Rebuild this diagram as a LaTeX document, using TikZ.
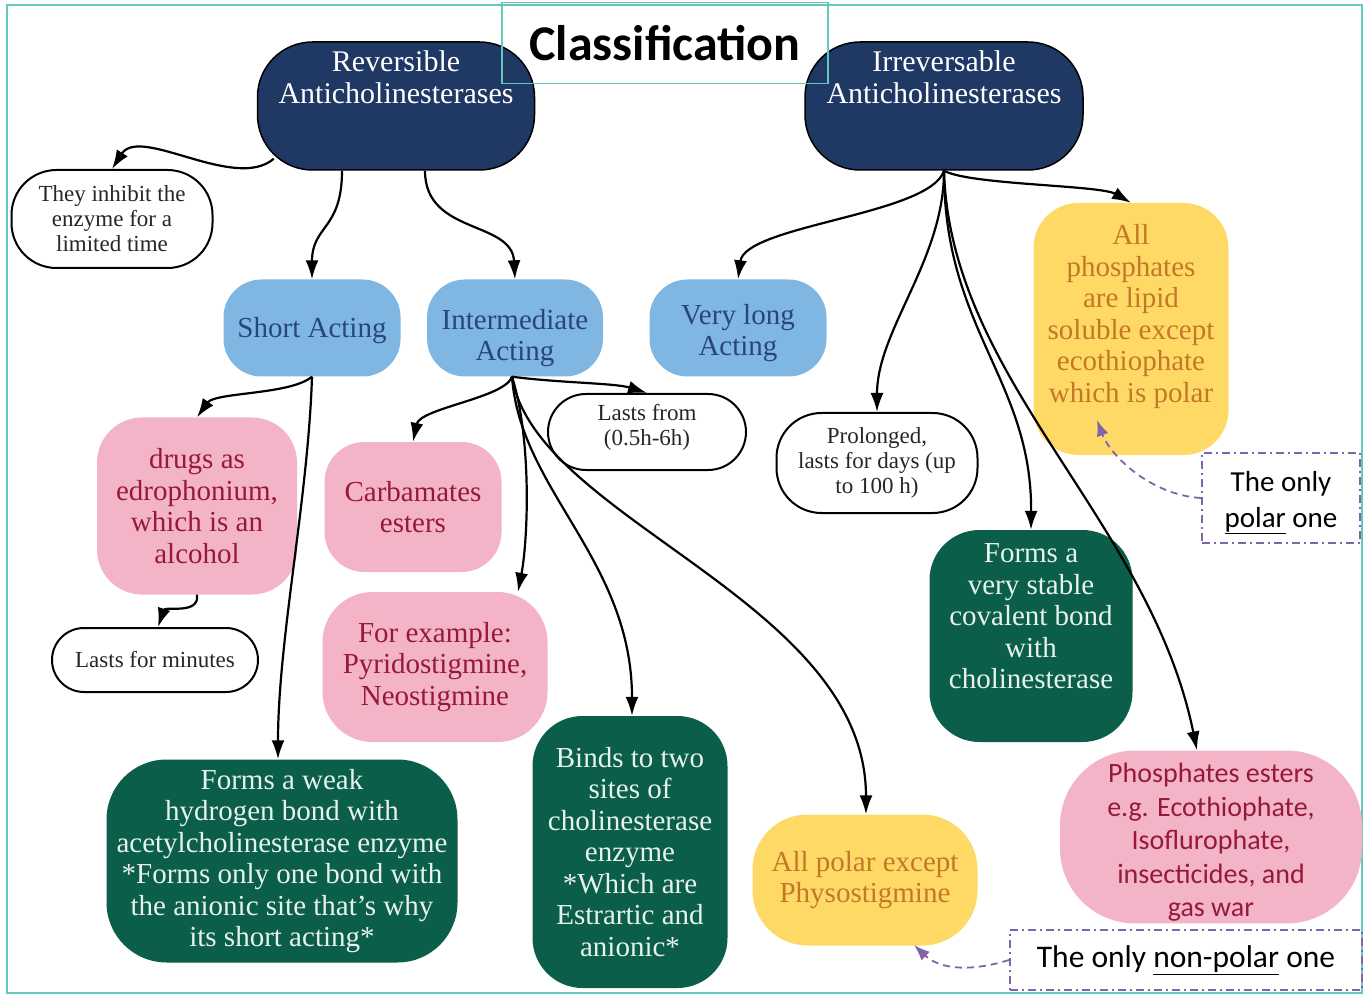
\documentclass[tikz,border=0pt]{standalone}
\usepackage{fontspec}
\setmainfont{Liberation Serif}
\newfontfamily\calibri{Carlito}
\usepackage{xcolor}
\usepackage{tikz}
\usetikzlibrary{calc, arrows.meta}

\definecolor{navyc}{RGB}{31,56,100}
\definecolor{skyc}{RGB}{127,182,226}
\definecolor{skytext}{RGB}{40,70,125}
\definecolor{rosec}{RGB}{244,180,200}
\definecolor{rosetext}{RGB}{150,25,60}
\definecolor{goldc}{RGB}{255,217,102}
\definecolor{goldtext}{RGB}{195,120,40}
\definecolor{pinec}{RGB}{10,94,74}
\definecolor{pinetext}{RGB}{232,242,236}
\definecolor{framec}{RGB}{100,200,190}
\definecolor{lavc}{RGB}{128,100,170}

\newcommand{\txthead}{\fontsize{30}{32}\selectfont}
\newcommand{\txtbody}{\fontsize{29}{31.5}\selectfont}
\newcommand{\txtsmall}{\fontsize{23}{25}\selectfont}
\newcommand{\txtsans}{\calibri\fontsize{28}{33.5}\selectfont}
\newcommand{\txtnote}{\calibri\fontsize{29}{36}\selectfont}
\newcommand{\txttitle}{\calibri\bfseries\fontsize{50}{52}\selectfont}

\begin{document}
\begin{tikzpicture}[x=1pt, y=-1pt, >={Latex[length=19pt, width=13pt]},
    edge/.style={->, line width=2.2pt, black},
    hint/.style={-{Latex[length=16pt, width=12pt]}, lavc, line width=1.8pt, dash pattern=on 7pt off 5pt},
    box/.style={align=center, inner sep=2pt},
    headbox/.style={box, fill=navyc, draw=black, line width=1.5pt, text=white, font=\txthead, rounded corners=55pt},
    whitebox/.style={box, fill=white, draw=black, line width=2pt, text=black!85, font=\txtsmall},
    bluebox/.style={box, fill=skyc, text=skytext, font=\txtbody, rounded corners=38pt},
    pinkbox/.style={box, fill=rosec, text=rosetext, font=\txtbody, rounded corners=45pt},
    goldbox/.style={box, fill=goldc, text=goldtext, font=\txtbody, rounded corners=50pt},
    greenbox/.style={box, fill=pinec, text=pinetext, font=\txtbody, rounded corners=50pt},
    notebox/.style={box, draw=lavc, line width=1.8pt, dash pattern=on 8pt off 4pt on 2pt off 4pt, text=black, font=\txtnote}]
    \useasboundingbox (0,0) rectangle (1369,1000);

    % 1. Khung ngoài
    \draw[framec, line width=2.5pt] (7,5) rectangle (1362,993);

    % 2. Hai nút gốc
    \node[headbox, minimum width=277pt, minimum height=128pt] (rev) at (396,106) {Reversible\\Anticholinesterases\\[26pt]\mbox{}};
    \node[headbox, minimum width=278pt, minimum height=128pt] (irr) at (944,106) {Irreversable\\Anticholinesterases\\[26pt]\mbox{}};

    % 3. Nhánh thuận nghịch
    \node[whitebox, minimum width=201pt, minimum height=98pt, rounded corners=45pt] (inhibit) at (112,219) {They inhibit the\\enzyme for a\\limited time};
    \node[bluebox, minimum width=177pt, minimum height=97pt] (short) at (312,328) {\rule{0pt}{26pt}Short Acting};
    \node[bluebox, minimum width=176pt, minimum height=97pt] (inter) at (515,328) {\rule{0pt}{40pt}Intermediate\\Acting};
    \node[pinkbox, minimum width=200pt, minimum height=177pt] (drugs) at (197,506) {drugs as\\edrophonium,\\which is an\\alcohol};
    \node[whitebox, minimum width=206pt, minimum height=64pt, rounded corners=32pt] (minutes) at (155,660) {Lasts for minutes};
    \node[greenbox, minimum width=351pt, minimum height=203pt, rounded corners=60pt] (weak) at (282,861) {Forms a weak\\hydrogen bond with\\acetylcholinesterase enzyme\\*Forms only one bond with\\the anionic site that's why\\its short acting*};
    \node[whitebox, minimum width=198pt, minimum height=76pt, rounded corners=38pt] (lastsfrom) at (647,432) {Lasts from\\(0.5h-6h)\\[-10pt]\mbox{}};
    \node[pinkbox, minimum width=177pt, minimum height=130pt, rounded corners=40pt] (carb) at (413,507) {Carbamates\\esters};
    \node[pinkbox, minimum width=225pt, minimum height=150pt, rounded corners=50pt] (forex) at (435,667) {For example:\\Pyridostigmine,\\Neostigmine};
    \node[greenbox, minimum width=195pt, minimum height=272pt] (binds) at (630,852) {Binds to two\\sites of\\cholinesterase\\enzyme\\*Which are\\Estrartic and\\anionic*};
    \node[goldbox, minimum width=225pt, minimum height=131pt, rounded corners=55pt] (polexc) at (865,880) {All polar except\\Physostigmine};

    % 4. Nhánh không thuận nghịch
    \node[bluebox, minimum width=177pt, minimum height=97pt] (vlong) at (738,328) {\rule{0pt}{30pt}Very long\\Acting};
    \node[goldbox, minimum width=195pt, minimum height=252pt, rounded corners=45pt] (allphos) at (1131,329) {All\\phosphates\\are lipid\\soluble except\\ecothiophate\\which is polar\\[0pt]\mbox{}};
    \node[whitebox, minimum width=201pt, minimum height=100pt, rounded corners=45pt] (prolonged) at (877,463) {Prolonged,\\lasts for days (up\\to 100 h)};
    \node[greenbox, minimum width=203pt, minimum height=212pt] (stable) at (1031,636) {Forms a\\very stable\\covalent bond\\with\\cholinesterase\\[8pt]\mbox{}};
    \node[pinkbox, font=\txtsans, minimum width=302pt, minimum height=161pt, rounded corners=75pt] (phosest) at (1211,837) {\rule{0pt}{30pt}Phosphates esters\\e.g. Ecothiophate,\\Isoflurophate,\\insecticides, and\\gas war};

    % 5. Ghi chú nét chấm gạch
    \node[notebox, minimum width=158pt, minimum height=90pt] (polarnote) at (1281,498) {\rule{0pt}{29pt}The only\\\underline{polar} one};
    \node[notebox, font=\calibri\fontsize{31.5}{36}\selectfont, minimum width=352pt, minimum height=60pt] (nonpolnote) at (1186,960) {The only \underline{non-polar} one};

    % 6. Mũi tên
    \draw[edge] ($(rev.south west)+(17,-12)$) .. controls (235,192) and (140,125) .. (inhibit.north);
    \draw[edge] ([xshift=-54pt]rev.south) .. controls (342,230) and (312,225) .. (short.north);
    \draw[edge] ([xshift=29pt]rev.south) .. controls (425,235) and (512,220) .. (inter.north);

    \draw[edge] (irr.south) .. controls (930,215) and (745,225) .. (vlong.north);
    \draw[edge] (irr.south) .. controls (970,185) and (1100,185) .. (allphos.north);
    \draw[edge] (irr.south) .. controls (944,260) and (877,330) .. (prolonged.north);
    \draw[edge] (irr.south) .. controls (944,330) and (1032,380) .. (stable.north);
    \draw[edge] (irr.south) .. controls (950,380) and (1150,520) .. ([xshift=-14pt]phosest.north);

    \draw[edge] (short.south) .. controls (290,395) and (215,392) .. (drugs.north);
    \draw[edge] (short.south) .. controls (308,500) and (278,640) .. ([xshift=-4pt]weak.north);
    \draw[edge] (drugs.south) .. controls (200,615) and (165,606) .. ([xshift=3pt]minutes.north);

    \draw[edge] ([xshift=-3pt]inter.south) .. controls (560,383) and (615,383) .. (lastsfrom.north);
    \draw[edge] ([xshift=-3pt]inter.south) .. controls (505,398) and (420,408) .. (carb.north);
    \draw[edge] ([xshift=-3pt]inter.south) .. controls (532,440) and (528,540) .. ([xshift=83pt]forex.north);
    \draw[edge] ([xshift=-3pt]inter.south) .. controls (520,490) and (632,560) .. ([xshift=2pt]binds.north);
    \draw[edge] ([xshift=-3pt]inter.south) .. controls (535,520) and (866,600) .. ([xshift=1pt]polexc.north);

    \draw[hint] (polarnote.west) .. controls (1150,495) and (1110,455) .. (1097,420);
    \draw[hint] (nonpolnote.west) .. controls (960,975) and (935,965) .. (914,945);

    % 7. Tiêu đề
    \node[draw=framec, line width=1.8pt, minimum width=326pt, minimum height=81pt, font=\txttitle] (title) at (665,43) {Classification};
\end{tikzpicture}
\end{document}
